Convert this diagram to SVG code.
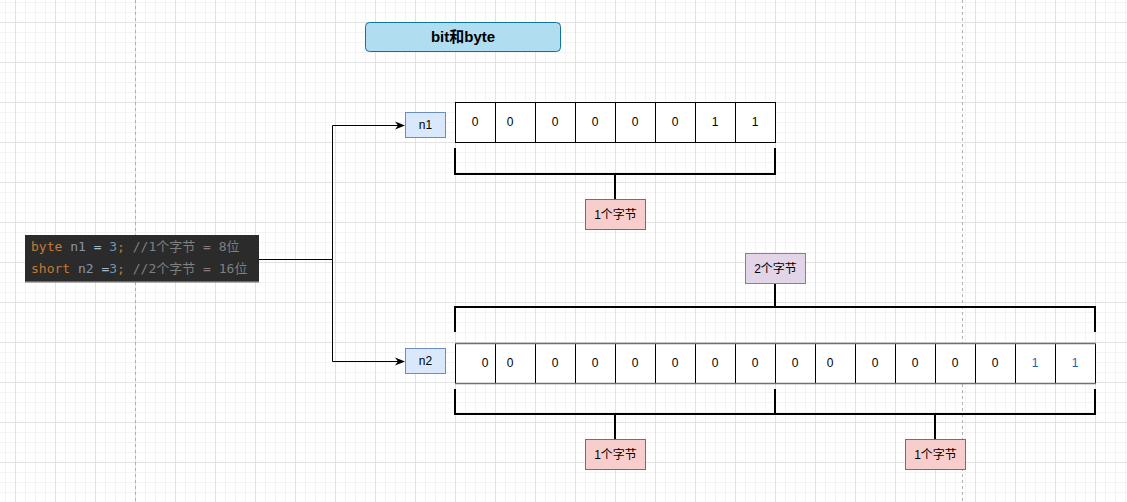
<svg xmlns="http://www.w3.org/2000/svg" width="1127" height="502" viewBox="0 0 1127 502">
<style>
.lbl{font-family:"Liberation Sans","Noto Sans CJK SC",sans-serif;font-size:12px;fill:#000;text-anchor:middle}
.cell{fill:#fff;stroke:#000;stroke-width:1}
.br{fill:none;stroke:#000;stroke-width:2}
.conn{fill:none;stroke:#000;stroke-width:1}
.code{font-family:"DejaVu Sans Mono","Liberation Mono","Noto Sans CJK SC",monospace;font-size:13px}
.kw{fill:#c47a36}.var{fill:#8a93ad}.op{fill:#a9b7c6}.num{fill:#6897bb}.cm{fill:#7f7f7f}
</style>
<defs>
<pattern id="grid" patternUnits="userSpaceOnUse" x="15" y="22" width="40" height="40">
<rect x="10" y="0" width="1" height="40" fill="#f3f3f3"/>
<rect x="20" y="0" width="1" height="40" fill="#f3f3f3"/>
<rect x="30" y="0" width="1" height="40" fill="#f3f3f3"/>
<rect x="0" y="10" width="40" height="1" fill="#f3f3f3"/>
<rect x="0" y="20" width="40" height="1" fill="#f3f3f3"/>
<rect x="0" y="30" width="40" height="1" fill="#f3f3f3"/>
<rect x="0" y="0" width="1" height="40" fill="#e2e2e2"/>
<rect x="0" y="0" width="40" height="1" fill="#e2e2e2"/>
</pattern>
<marker id="arr" viewBox="0 0 10 10" refX="9" refY="5" markerWidth="10" markerHeight="10" markerUnits="userSpaceOnUse" orient="auto">
<path d="M0,1 L10,5 L0,9 L3,5 Z" fill="#000"/>
</marker>
</defs>
<rect width="1127" height="502" fill="#fff"/>
<rect width="1127" height="502" fill="url(#grid)"/>
<line x1="135.5" y1="0" x2="135.5" y2="502" stroke="#b0b0b0" stroke-dasharray="3,3"/>
<line x1="962.5" y1="0" x2="962.5" y2="502" stroke="#b0b0b0" stroke-dasharray="3,3"/>

<g id="title">
<rect x="365.5" y="22.5" width="195" height="29" rx="4" fill="#b1ddf0" stroke="#10739e"/>
<text x="463" y="42" font-family="Liberation Sans,'Noto Sans CJK SC',sans-serif" font-size="15" font-weight="bold" text-anchor="middle">bit和byte</text>
</g>

<g id="code">
<rect x="25" y="235" width="234" height="47" fill="#2b2b2b"/>
<rect x="25" y="281" width="234" height="1.5" fill="#6a6a6a"/>
<text class="code" x="31" y="251" xml:space="preserve"><tspan class="kw">byte</tspan> <tspan class="var">n1</tspan> <tspan class="op">=</tspan> <tspan class="num">3</tspan><tspan class="kw">;</tspan> <tspan class="cm">//1个字节 = 8位</tspan></text>
<text class="code" x="31" y="273" xml:space="preserve"><tspan class="kw">short</tspan> <tspan class="var">n2</tspan> <tspan class="op">=</tspan><tspan class="num">3</tspan><tspan class="kw">;</tspan> <tspan class="cm">//2个字节 = 16位</tspan></text>
</g>

<g id="connectors">
<path class="conn" d="M259,259.5 H332.5 V125.5 H404" marker-end="url(#arr)"/>
<path class="conn" d="M332.5,259.5 V361.5 H404" marker-end="url(#arr)"/>
<path class="br" d="M455,148 V174 H775 V148"/>
<line class="br" x1="615" y1="174" x2="615" y2="199"/>
<path class="br" d="M455,332 V307 H1095 V332"/>
<line class="br" x1="775" y1="283" x2="775" y2="307"/>
<path class="br" d="M455,389 V414 H1095 V389"/>
<line class="br" x1="775" y1="389" x2="775" y2="414"/>
<line class="br" x1="615" y1="414" x2="615" y2="439"/>
<line class="br" x1="935" y1="414" x2="935" y2="439"/>
</g>

<g id="n1">
<rect x="405.5" y="112.5" width="40" height="25" fill="#dae8fc" stroke="#6c8ebf"/>
<text class="lbl" x="425.5" y="129">n1</text>
</g>

<g id="n1-bits">
<rect class="cell" x="455.5" y="102.5" width="40" height="40"/>
<rect class="cell" x="495.5" y="102.5" width="40" height="40"/>
<rect class="cell" x="535.5" y="102.5" width="40" height="40"/>
<rect class="cell" x="575.5" y="102.5" width="40" height="40"/>
<rect class="cell" x="615.5" y="102.5" width="40" height="40"/>
<rect class="cell" x="655.5" y="102.5" width="40" height="40"/>
<rect class="cell" x="695.5" y="102.5" width="40" height="40"/>
<rect class="cell" x="735.5" y="102.5" width="40" height="40"/>
<text class="lbl" x="475" y="126">0</text>
<text class="lbl" x="510" y="126">0</text>
<text class="lbl" x="555" y="126">0</text>
<text class="lbl" x="595" y="126">0</text>
<text class="lbl" x="635" y="126">0</text>
<text class="lbl" x="675" y="126">0</text>
<text class="lbl" x="715" y="126">1</text>
<text class="lbl" x="755" y="126">1</text>
</g>

<g id="n1-byte">
<rect x="585.5" y="199.5" width="60" height="30" fill="#f8cecc" stroke="#b85450"/>
<text class="lbl" x="615.5" y="219">1个字节</text>
</g>

<g id="n2-2bytes">
<rect x="745.5" y="253.5" width="60" height="30" fill="#e1d5e7" stroke="#9673a6"/>
<text class="lbl" x="775.5" y="273">2个字节</text>
</g>

<g id="n2">
<rect x="405.5" y="348.5" width="40" height="25" fill="#dae8fc" stroke="#6c8ebf"/>
<text class="lbl" x="425.5" y="365">n2</text>
</g>

<g id="n2-bits">
<rect x="455.5" y="343.5" width="640" height="40" fill="#fff"/>
<g stroke="#000">
<line x1="455.5" y1="343" x2="455.5" y2="384"/>
<line x1="495.5" y1="343" x2="495.5" y2="384"/>
<line x1="535.5" y1="343" x2="535.5" y2="384"/>
<line x1="575.5" y1="343" x2="575.5" y2="384"/>
<line x1="615.5" y1="343" x2="615.5" y2="384"/>
<line x1="655.5" y1="343" x2="655.5" y2="384"/>
<line x1="695.5" y1="343" x2="695.5" y2="384"/>
<line x1="735.5" y1="343" x2="735.5" y2="384"/>
<line x1="775.5" y1="343" x2="775.5" y2="384"/>
<line x1="815.5" y1="343" x2="815.5" y2="384"/>
<line x1="855.5" y1="343" x2="855.5" y2="384"/>
<line x1="895.5" y1="343" x2="895.5" y2="384"/>
<line x1="935.5" y1="343" x2="935.5" y2="384"/>
<line x1="975.5" y1="343" x2="975.5" y2="384"/>
<line x1="1015.5" y1="343" x2="1015.5" y2="384"/>
<line x1="1055.5" y1="343" x2="1055.5" y2="384"/>
<line x1="1095.5" y1="343" x2="1095.5" y2="384"/>
</g>
<line x1="455" y1="343.5" x2="1096" y2="343.5" stroke="#707070" stroke-width="1.6"/>
<line x1="455" y1="383.5" x2="1096" y2="383.5" stroke="#707070" stroke-width="1.6"/>
<text class="lbl" x="485" y="367">0</text>
<text class="lbl" x="510" y="367">0</text>
<text class="lbl" x="555" y="367">0</text>
<text class="lbl" x="595" y="367">0</text>
<text class="lbl" x="635" y="367">0</text>
<text class="lbl" x="675" y="367">0</text>
<text class="lbl" x="715" y="367">0</text>
<text class="lbl" x="755" y="367">0</text>
<text class="lbl" x="795" y="367">0</text>
<text class="lbl" x="830" y="367">0</text>
<text class="lbl" x="875" y="367">0</text>
<text class="lbl" x="915" y="367">0</text>
<text class="lbl" x="955" y="367">0</text>
<text class="lbl" x="995" y="367">0</text>
<text class="lbl" x="1035" y="367" style="fill:#1a5fb4">1</text>
<text class="lbl" x="1075" y="367" style="fill:#1a5fb4">1</text>
</g>

<g id="n2-byte1">
<rect x="585.5" y="439.5" width="60" height="30" fill="#f8cecc" stroke="#b85450"/>
<text class="lbl" x="615.5" y="459">1个字节</text>
</g>

<g id="n2-byte2">
<rect x="905.5" y="439.5" width="60" height="30" fill="#f8cecc" stroke="#b85450"/>
<text class="lbl" x="935.5" y="459">1个字节</text>
</g>
</svg>
